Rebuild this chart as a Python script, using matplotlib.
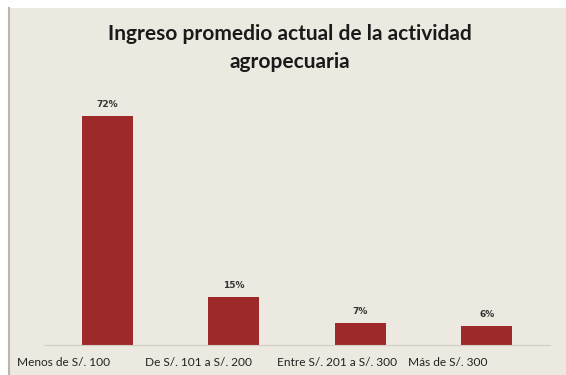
import matplotlib.pyplot as plt
from matplotlib.patches import Rectangle

# ingreso promedio por rango
categorias = ['Menos de S/. 100', 'De S/. 101 a S/. 200',
              'Entre S/. 201 a S/. 300', 'Más de S/. 300']
porcentajes = [72, 15, 7, 6]

W, H = 566, 375
fig = plt.figure(figsize=(W / 100, H / 100), dpi=100, facecolor='white')

# fondo beige del panel
fondo = Rectangle((9 / W, 0), 1, 1 - 8 / H, transform=fig.transFigure,
                  facecolor='#ECEAE0', edgecolor='none', zorder=-2)
fig.patches.append(fondo)
fig.add_artist(plt.Line2D([9 / W, 9 / W], [0, 1 - 8 / H], color='#B8B6AE',
                          lw=1.5, transform=fig.transFigure, zorder=-1))

ax = fig.add_axes([44 / W, 30 / H, 506 / W, 254 / H])
ax.set_facecolor('none')
x = range(len(categorias))
barras = ax.bar(x, porcentajes, width=0.4, color='#9E292A')
ax.set_xlim(-0.5, 3.5)
ax.set_ylim(0, 80)

for b, v in zip(barras, porcentajes):
    ax.annotate(f'{v}%', (b.get_x() + b.get_width() / 2, v),
                xytext=(0, 5), textcoords='offset points', ha='center',
                va='bottom', fontsize=6.5, fontweight='bold', color='#333333')

for s in ['top', 'right', 'left']:
    ax.spines[s].set_visible(False)
ax.spines['bottom'].set_color('#D0CEC6')
ax.set_yticks([])
ax.set_xticks([])

# etiquetas de categoria, alineadas a la izquierda
inicio_px = [17, 145, 277, 408]
for px, txt in zip(inicio_px, categorias):
    fig.text(px / W, 1 - 362 / H, txt, ha='left', va='center',
             fontsize=8.6, family='Lato', color='#222222')

fig.text(290 / W, 1 - 48 / H,
         'Ingreso promedio actual de la actividad\nagropecuaria',
         ha='center', va='center', fontsize=15, fontweight='bold',
         family='Lato', color='#1A1A1A', linespacing=1.5)

fig.savefig('out.png', dpi=100, facecolor='white')
